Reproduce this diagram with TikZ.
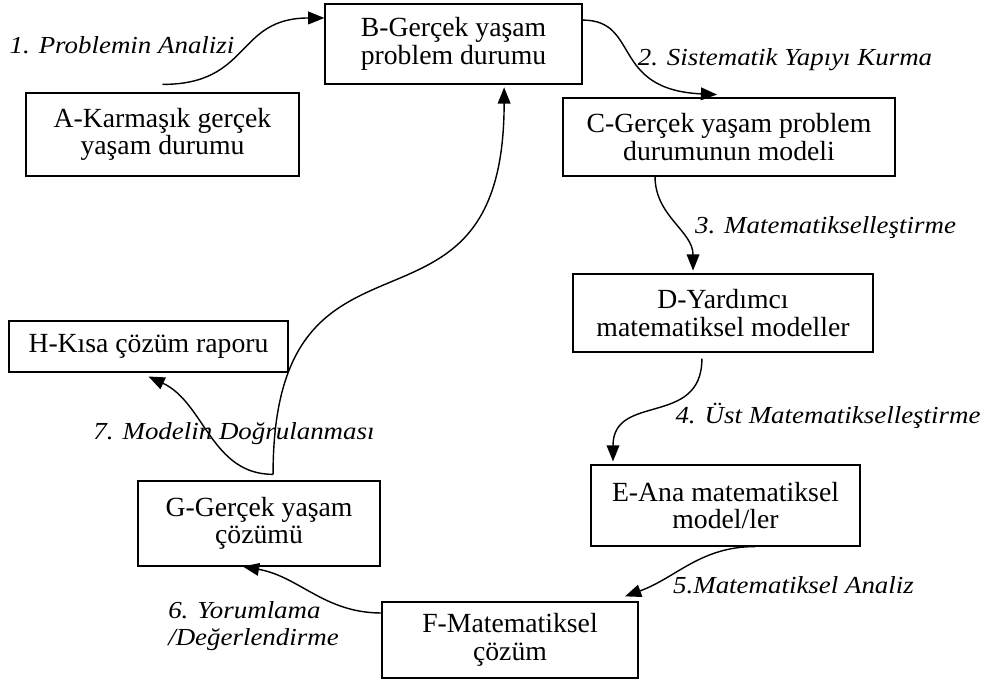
\documentclass[tikz,border=0pt]{standalone}
\usepackage{fontspec}
\setmainfont{Liberation Serif}
\newfontfamily\etiketfont[FakeStretch=1.1]{Liberation Serif}
\usetikzlibrary{arrows.meta}
\begin{document}
\begin{tikzpicture}[x=0.025cm,y=-0.025cm,
 kutu/.style={draw,line width=0.8pt,inner sep=0pt,align=center,font=\fontsize{19.7}{19.5}\selectfont},
 ok/.style={line width=1pt,-{Triangle[length=11.5pt,width=9pt]}},
 etiket/.style={inner sep=0pt,font=\etiketfont\itshape\fontsize{17.4}{19.2}\selectfont}]
 \useasboundingbox (0,0) rectangle (987,681);
 \node[kutu,minimum width=6.825cm,minimum height=2.075cm] (A) at (162.5,134.5) {A-Karmaşık gerçek\\yaşam durumu};
 \node[kutu,minimum width=6.425cm,minimum height=2cm] (B) at (453.5,44) {B-Gerçek yaşam\\problem durumu};
 \node[kutu,minimum width=8.3cm,minimum height=1.95cm] (C) at (729,137) {C-Gerçek yaşam problem\\durumunun modeli};
 \node[kutu,minimum width=7.5cm,minimum height=1.95cm] (D) at (723,313) {D-Yardımcı\\matematiksel modeller};
 \node[kutu,minimum width=6.725cm,minimum height=2.025cm] (E) at (725.5,505.5) {E-Ana matematiksel\\model/ler};
 \node[kutu,minimum width=6.4cm,minimum height=1.9cm] (F) at (510,640) {F-Matematiksel\\çözüm};
 \node[kutu,minimum width=6.05cm,minimum height=2.125cm] (G) at (259,523.5) {G-Gerçek yaşam\\çözümü};
 \node[kutu,minimum width=6.975cm,minimum height=1.275cm] (H) at (148.5,346.5) {H-Kısa çözüm raporu};
 \coordinate (g1) at ([xshift=10pt,yshift=4.3pt]G.north);
 \draw[ok] ([yshift=5.7pt]A.north) to[out=0,in=180,looseness=1.3] ([yshift=18.5pt]B.west);
 \draw[ok] ([yshift=17pt]B.east) .. controls +(58,0) and +(-107,-5) .. ([xshift=-8.5pt,yshift=2pt]C.north);
 \draw[ok] ([xshift=-52.6pt]C.south) to[out=-90,in=90] ([xshift=-21.3pt,yshift=2pt]D.north);
 \draw[ok] ([xshift=-15pt,yshift=-4.3pt]D.south) to[out=-90,in=90,looseness=1.3] ([xshift=-80pt,yshift=2.1pt]E.north);
 \draw[ok] ([xshift=21pt]E.south) to[out=180,in=20] ([xshift=81.8pt,yshift=3.6pt]F.north);
 \draw[ok] ([yshift=19.2pt]F.west) to[out=180,in=-10] ([xshift=-11.4pt]G.south);
 \draw[ok] (g1) to[out=180,in=-25] ([yshift=-2.8pt]H.south);
 \draw[ok] (g1) to[out=90,in=-90,looseness=1.6] ([xshift=36pt,yshift=-2pt]B.south);
 \node[etiket] (l1) at (122,45) {1. Problemin Analizi};
 \node[etiket] (l2) at (785,60) {2. Sistematik Yapıyı Kurma};
 \node[etiket] (l3) at (825.5,228) {3. Matematikselleştirme};
 \node[etiket] (l4) at (828,416) {4. Üst Matematikselleştirme};
 \node[etiket] (l5) at (793.5,585) {5.Matematiksel Analiz};
 \node[etiket,align=left,anchor=west] (l6) at (168,626) {6. Yorumlama\\/Değerlendirme};
 \node[etiket] (l7) at (234,434) {7. Modelin Doğrulanması};
\end{tikzpicture}
\end{document}
